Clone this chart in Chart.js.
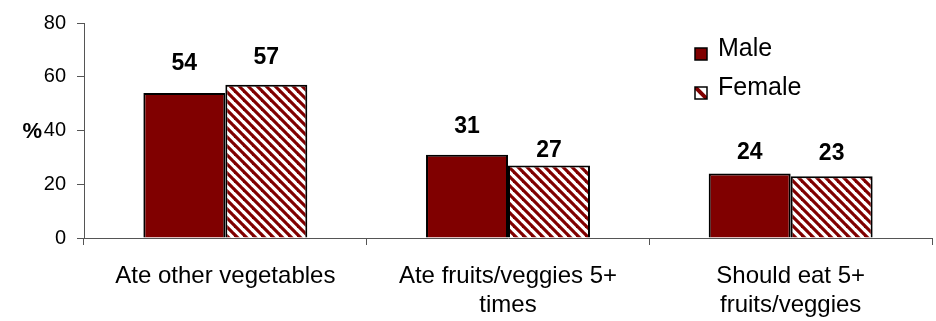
<!DOCTYPE html>
<html>
<head>
<meta charset="utf-8">
<script src="https://cdn.jsdelivr.net/npm/chart.js@4/dist/chart.umd.min.js"></script>
<style>
  html, body { margin: 0; padding: 0; background: #ffffff; }
  #wrap { width: 936px; height: 321px; }
</style>
</head>
<body>
<div id="wrap"><canvas id="c" width="936" height="321"></canvas></div>
<script>
// Survey results by sex (percent)
const categories = [
  'Ate other vegetables',
  ['Ate fruits/veggies 5+', 'times'],
  ['Should eat 5+', 'fruits/veggies']
];
const seriesNames = ['Male', 'Female'];
const maleValues = [54, 31, 24];
const femaleValues = [57, 27, 23];
const yTicks = [0, 20, 40, 60, 80];

const MAROON = '#800000';
const FONT = '"Liberation Sans", Arial, Helvetica, sans-serif';

// Diagonal "\" hatch used for the Female bars
function makeHatch() {
  const s = 9;
  const c = document.createElement('canvas');
  c.width = s; c.height = s;
  const g = c.getContext('2d');
  g.fillStyle = '#ffffff';
  g.fillRect(0, 0, s, s);
  g.strokeStyle = MAROON;
  g.lineWidth = 3.2;
  for (let k = -1; k <= 1; k++) {
    g.beginPath();
    g.moveTo(k * s - s, -s);
    g.lineTo(k * s + 2 * s, 2 * s);
    g.stroke();
  }
  return g.createPattern(c, 'repeat');
}
const hatch = makeHatch();

// Extra gap between each bar top and its value label
const labelGap = [[29, 28, 21], [27, 15, 23]];

const valueLabels = {
  id: 'valueLabels',
  afterDatasetsDraw(chart) {
    const ctx = chart.ctx;
    ctx.save();
    ctx.font = 'bold 23px ' + FONT;
    ctx.fillStyle = '#000';
    ctx.textAlign = 'center';
    ctx.textBaseline = 'middle';
    chart.data.datasets.forEach((ds, di) => {
      chart.getDatasetMeta(di).data.forEach((bar, i) => {
        ctx.fillText(String(ds.data[i]), bar.x, bar.y - labelGap[di][i]);
      });
    });
    ctx.restore();
  }
};

const sideLegend = {
  id: 'sideLegend',
  afterDraw(chart) {
    const ctx = chart.ctx;
    const x0 = 695, rows = [48, 87];
    ctx.save();
    chart.data.datasets.forEach((ds, di) => {
      const cy = rows[di];
      const bx = x0, by = cy, sz = 12;
      ctx.save();
      ctx.beginPath();
      ctx.rect(bx, by, sz, sz);
      ctx.clip();
      if (di === 0) {
        ctx.fillStyle = MAROON;
        ctx.fillRect(bx, by, sz, sz);
      } else {
        ctx.fillStyle = '#fff';
        ctx.fillRect(bx, by, sz, sz);
        ctx.strokeStyle = MAROON;
        ctx.lineWidth = 4;
        ctx.beginPath();
        ctx.moveTo(bx - 2, by - 2);
        ctx.lineTo(bx + sz + 2, by + sz + 2);
        ctx.stroke();
      }
      ctx.restore();
      ctx.strokeStyle = '#000';
      ctx.lineWidth = 1.5;
      ctx.strokeRect(bx, by, sz, sz);
      ctx.fillStyle = '#000';
      ctx.font = '25px ' + FONT;
      ctx.textAlign = 'left';
      ctx.textBaseline = 'middle';
      ctx.fillText(ds.label, 718, cy + 1);
    });
    ctx.restore();
  }
};

const percentTitle = {
  id: 'percentTitle',
  afterDraw(chart) {
    const ctx = chart.ctx;
    const y = chart.scales.y.getPixelForValue(40);
    ctx.save();
    ctx.font = 'bold 22px ' + FONT;
    ctx.fillStyle = '#000';
    ctx.textAlign = 'right';
    ctx.textBaseline = 'middle';
    ctx.fillText('%', 42, y + 1);
    ctx.restore();
  }
};

new Chart(document.getElementById('c'), {
  type: 'bar',
  data: {
    labels: categories,
    datasets: [
      {
        label: seriesNames[0],
        data: maleValues,
        backgroundColor: MAROON,
        borderColor: '#000',
        borderWidth: 2,
        categoryPercentage: 0.58,
        barPercentage: 1.0
      },
      {
        label: seriesNames[1],
        data: femaleValues,
        backgroundColor: hatch,
        borderColor: '#000',
        borderWidth: 2,
        categoryPercentage: 0.58,
        barPercentage: 1.0
      }
    ]
  },
  options: {
    responsive: false,
    animation: false,
    devicePixelRatio: 1,
    layout: { padding: { top: 18, right: 4, left: 0, bottom: 0 } },
    plugins: {
      legend: { display: false },
      tooltip: { enabled: false }
    },
    scales: {
      x: {
        offset: true,
        grid: {
          offset: true,
          drawOnChartArea: false,
          drawTicks: true,
          tickLength: 7,
          color: '#555'
        },
        border: { display: true, color: '#555', width: 1 },
        ticks: {
          color: '#000',
          font: { family: FONT, size: 24, lineHeight: 1.2 },
          padding: 17,
          maxRotation: 0,
          minRotation: 0,
          autoSkip: false
        },
        afterFit(scale) { scale.height = 83; }
      },
      y: {
        min: 0,
        max: 80,
        afterBuildTicks(scale) {
          scale.ticks = yTicks.map(v => ({ value: v }));
        },
        grid: {
          drawOnChartArea: false,
          drawTicks: true,
          tickLength: 7,
          color: '#555'
        },
        border: { display: true, color: '#555', width: 1 },
        ticks: {
          color: '#000',
          font: { family: FONT, size: 20 },
          padding: 11
        },
        afterFit(scale) { scale.width = 84; }
      }
    }
  },
  plugins: [valueLabels, sideLegend, percentTitle]
});
</script>
</body>
</html>
